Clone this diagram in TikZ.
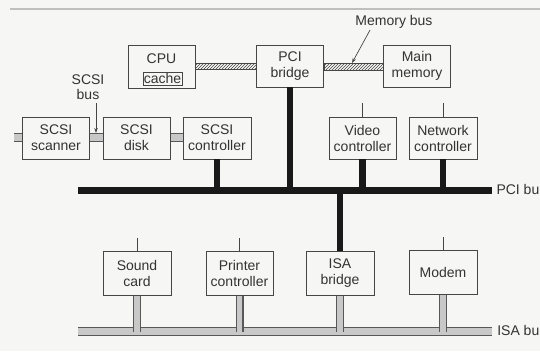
\documentclass[tikz,border=0pt]{standalone}
\usepackage{fontspec}
\setmainfont{Liberation Sans}
\usetikzlibrary{arrows.meta, patterns, calc}
\definecolor{paper}{RGB}{246,246,244}
\definecolor{ink}{RGB}{70,70,70}
\definecolor{pipegray}{RGB}{200,200,200}

\begin{document}
\begin{tikzpicture}[
    x=1pt, y=-1pt,
    box/.style={draw=ink, fill=paper, line width=0.8pt, minimum width=67pt,
                minimum height=42pt, inner sep=1pt, align=center,
                font=\fontsize{14}{16}\selectfont, text=black!80},
    cachebox/.style={draw=ink, line width=0.7pt, inner sep=0.8pt,
                minimum height=13pt, font=\fontsize{14}{14}\selectfont, text=black!80},
    lbl/.style={align=center, font=\fontsize{14}{15}\selectfont, text=black!80},
    pcibus/.style={line width=7pt, black!90},
    pcidrop/.style={line width=6.5pt, black!90},
    pipeout/.style={line width=#1, ink!90},
    pipein/.style={line width=#1, pipegray},
    hatchbus/.style={draw=ink, line width=0.7pt, pattern=north east lines,
                pattern color=ink},
    stub/.style={draw=ink, line width=0.7pt},
    >={Stealth[length=5pt, width=3.5pt]},
]
\useasboundingbox (0,0) rectangle (540,351);
\clip (0,0) rectangle (540,351);
\fill[paper] (0,0) rectangle (540,351);
\draw[black!25, line width=1.5pt] (10,9) -- (540,9);

% bus ends
\coordinate (pciL) at (78,190.5);
\coordinate (pciR) at (492,190.5);
\coordinate (isaL) at (78,331.5);
\coordinate (isaR) at (492,331.5);
\coordinate (scsiL) at (14,137.5);

% gray pipes: outlines first, then fill
\foreach \w/\s in {9.5pt/pipeout, 7pt/pipein}{
  \draw[\s=\w] (isaL) -- (isaR);
}
\foreach \xx in {137,239.5,340,443}{
  \draw[pipeout=8pt] (\xx,294) -- (\xx,331.5);
}
\foreach \xx in {137,239.5,340,443}{
  \draw[pipein=5.5pt] (\xx,294) -- (\xx,331.5);
}
\foreach \w/\s in {9pt/pipeout, 6.5pt/pipein}{
  \draw[\s=\w] (scsiL) -- (183,137.5);
}

% top row
\node[box, minimum height=43pt] (cpu) at (161.5,66.5) {};
\node[lbl] (cputxt) at (161.5,58.5) {CPU};
\node[cachebox] (cache) at (162.5,78.5) {cache};
\node[box] (pcib) at (290,66) {PCI\\bridge};
\node[box] (mem) at (417,66) {Main\\memory};
\draw[hatchbus] ([yshift=3.5pt]cpu.east) rectangle ([yshift=-3.5pt]pcib.west);
\draw[hatchbus] ([yshift=3pt]pcib.east) rectangle ([yshift=-4pt]mem.west);

% memory bus label
\node[lbl] (membus) at (394,22) {Memory bus};
\coordinate (memtip) at (352,63);
\draw[->, ink, line width=0.7pt] ($(membus.south)+(-24,-2)$) -- (memtip);

% SCSI row
\node[box] (scanner) at (56,138) {SCSI\\scanner};
\node[box] (disk) at (136.5,138) {SCSI\\disk};
\node[box, minimum width=68pt] (scsictl) at (217,138) {SCSI\\controller};
\node[lbl] (scsibus) at (88,87.5) {SCSI\\bus};
\coordinate (scsitip) at (96,133);
\draw[->, ink, line width=0.7pt] (96,103) -- (scsitip);

% PCI devices
\node[box] (video) at (362.5,138) {Video\\controller};
\node[box, minimum width=68pt] (net) at (443,138) {Network\\controller};
\draw[stub] (video.north) -- ++(0,-14);
\draw[stub] (net.north) -- ++(0,-14);

% PCI bus and drops
\draw[pcidrop] (scsictl.south) -- (scsictl.south |- pciL);
\draw[pcidrop] (pcib.south) -- (pcib.south |- pciL);
\draw[pcidrop] (video.south) -- (video.south |- pciL);
\draw[pcidrop] (net.south) -- (net.south |- pciL);
\draw[pcibus] (pciL) -- (pciR);
\node[lbl, anchor=east, inner xsep=0pt] (pcilbl) at (539.5,189.5) {PCI bu};

% ISA devices
\node[box, minimum width=68pt, minimum height=44pt] (sound) at (137,273) {Sound\\card};
\node[box, minimum height=44pt] (printer) at (239.5,273) {Printer\\controller};
\node[box, minimum width=68pt, minimum height=44pt] (isab) at (340,273) {ISA\\bridge};
\node[box, minimum width=68pt, minimum height=44pt] (modem) at (443,272) {Modem};
\draw[pcidrop] (isab.north |- pciL) -- (isab.north);
\draw[stub] (sound.north) -- ++(0,-13);
\draw[stub] (printer.north) -- ++(0,-13);
\draw[stub] (modem.north) -- ++(0,-13);
\node[lbl, anchor=east, inner xsep=0pt] (isalbl) at (539.5,330.5) {ISA bu};
\end{tikzpicture}
\end{document}
